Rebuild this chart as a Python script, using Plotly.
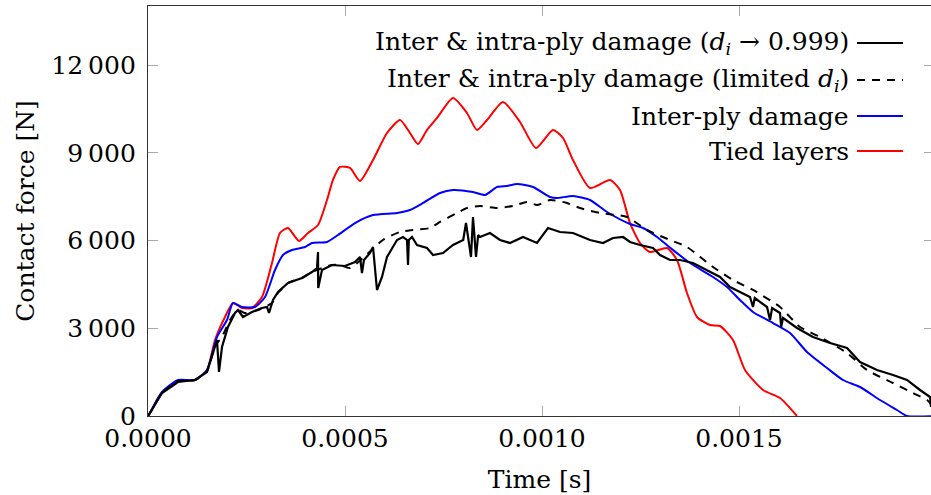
import plotly.graph_objects as go

# ---------------- data (time in s, force in N) ----------------
t_full = [0, 0.051e-4, 0.355e-4, 0.761e-4, 1.193e-4, 1.497e-4, 1.650e-4, 1.751e-4, 1.802e-4, 1.878e-4,
          2.030e-4, 2.208e-4, 2.284e-4, 2.411e-4, 2.640e-4, 2.893e-4, 3.020e-4, 3.071e-4, 3.173e-4, 3.299e-4,
          3.553e-4, 3.909e-4, 4.162e-4, 4.289e-4, 4.315e-4, 4.320e-4, 4.416e-4, 4.670e-4, 5.000e-4, 5.254e-4,
          5.381e-4, 5.431e-4, 5.480e-4, 5.635e-4, 5.711e-4, 5.812e-4, 5.939e-4, 6.066e-4, 6.320e-4, 6.472e-4,
          6.574e-4, 6.599e-4, 6.620e-4, 6.701e-4, 6.827e-4, 7.081e-4, 7.234e-4, 7.487e-4, 7.741e-4, 8.000e-4,
          8.071e-4, 8.150e-4, 8.198e-4, 8.249e-4, 8.325e-4, 8.380e-4, 8.426e-4, 8.680e-4, 8.934e-4, 9.188e-4,
          9.518e-4, 9.873e-4, 10.025e-4, 10.152e-4, 10.457e-4, 10.787e-4, 11.218e-4, 11.548e-4, 11.802e-4, 12.056e-4,
          12.234e-4, 12.487e-4, 12.817e-4, 12.995e-4, 13.249e-4, 13.503e-4, 13.832e-4, 14.188e-4, 14.518e-4, 14.772e-4,
          15.025e-4, 15.279e-4, 15.355e-4, 15.400e-4, 15.711e-4, 15.787e-4, 15.840e-4, 16.041e-4, 16.070e-4, 16.117e-4,
          16.472e-4, 16.878e-4, 17.310e-4, 17.741e-4, 18.071e-4, 18.503e-4, 18.909e-4, 19.264e-4, 19.594e-4, 19.848e-4,
          19.873e-4]
f_full = [0, 103, 787, 1163, 1232, 1506, 2156, 2601, 1506, 2361,
          3046, 3525, 3627, 3388, 3559, 3696, 3730, 3525, 3970, 4243,
          4551, 4722, 4928, 5065, 5612, 4380, 4996, 5167, 5133, 5270,
          5441, 4893, 5338, 5578, 5783, 4312, 4757, 5441, 6023, 6125,
          6023, 5167, 6023, 6125, 5852, 5749, 5509, 5578, 5852, 6023,
          6604, 5852, 5441, 6810, 5441, 6194, 6125, 6262, 6023, 5920,
          6125, 5920, 6194, 6433, 6296, 6262, 6023, 5920, 6091, 6125,
          5954, 5852, 5749, 5509, 5338, 5338, 5236, 4996, 4757, 4414,
          4243, 4072, 3730, 4038, 3730, 3285, 3696, 3525, 3046, 3354,
          3011, 2703, 2498, 2327, 1848, 1574, 1403, 1232, 890, 650,
          308]

t_lim = [0, 0.051e-4, 0.355e-4, 0.761e-4, 1.193e-4, 1.497e-4, 1.701e-4, 1.878e-4, 2.081e-4, 2.284e-4,
         2.462e-4, 2.792e-4, 3.147e-4, 3.299e-4, 3.553e-4, 3.909e-4, 4.162e-4, 4.670e-4, 4.873e-4, 5.127e-4,
         5.964e-4, 6.396e-4, 6.726e-4, 7.157e-4, 7.411e-4, 7.843e-4, 8.096e-4, 8.426e-4, 8.858e-4, 9.264e-4,
         9.619e-4, 9.873e-4, 10.203e-4, 10.635e-4, 10.964e-4, 11.472e-4, 12.157e-4, 12.665e-4, 13.249e-4, 13.680e-4,
         14.340e-4, 14.848e-4, 15.355e-4, 16.041e-4, 16.548e-4, 17.056e-4, 17.741e-4, 18.249e-4, 18.909e-4, 19.416e-4,
         19.772e-4, 19.873e-4]
f_lim = [0, 103, 787, 1198, 1232, 1540, 2400, 2703, 3285, 3627,
         3525, 3627, 3867, 4209, 4551, 4722, 4928, 5167, 5167, 5065,
         6023, 6296, 6365, 6433, 6639, 6947, 7118, 7186, 7118, 7186,
         7323, 7220, 7392, 7289, 7118, 6947, 6810, 6365, 6023, 5783,
         5099, 4654, 4312, 3730, 3046, 2703, 2156, 1574, 1129, 787,
         548, 411]

t_inter = [0, 0.051e-4, 0.355e-4, 0.761e-4, 1.193e-4, 1.497e-4, 1.751e-4, 2.005e-4, 2.157e-4, 2.386e-4,
           2.716e-4, 2.970e-4, 3.223e-4, 3.426e-4, 3.655e-4, 3.985e-4, 4.162e-4, 4.543e-4, 4.822e-4, 5.254e-4,
           5.711e-4, 6.320e-4, 6.650e-4, 6.980e-4, 7.411e-4, 7.741e-4, 8.249e-4, 8.553e-4, 8.858e-4, 9.112e-4,
           9.365e-4, 9.772e-4, 10.203e-4, 10.381e-4, 10.787e-4, 11.218e-4, 11.650e-4, 12.234e-4, 12.563e-4, 12.919e-4,
           13.325e-4, 13.756e-4, 14.340e-4, 14.695e-4, 15.025e-4, 15.355e-4, 15.863e-4, 16.294e-4, 16.726e-4, 17.234e-4,
           17.640e-4, 18.071e-4, 18.579e-4, 19.010e-4, 19.264e-4, 20.0e-4]
f_inter = [0, 120, 820, 1232, 1232, 1574, 2703, 3285, 3867, 3730,
           3730, 4072, 4996, 5509, 5680, 5783, 5920, 5954, 6194, 6604,
           6878, 6947, 7049, 7289, 7631, 7734, 7665, 7563, 7836, 7871,
           7939, 7836, 7494, 7460, 7528, 7392, 6981, 6570, 6433, 6125,
           5680, 5236, 4757, 4414, 3970, 3559, 3182, 2840, 2190, 1643,
           1232, 992, 548, 205, 0, 0]

t_tied = [0, 0.051e-4, 0.355e-4, 0.761e-4, 1.193e-4, 1.497e-4, 1.701e-4, 1.954e-4, 2.157e-4, 2.386e-4,
          2.640e-4, 2.893e-4, 3.147e-4, 3.350e-4, 3.553e-4, 3.832e-4, 4.061e-4, 4.315e-4, 4.543e-4, 4.695e-4,
          4.873e-4, 5.127e-4, 5.381e-4, 5.711e-4, 6.066e-4, 6.396e-4, 6.650e-4, 6.853e-4, 7.081e-4, 7.335e-4,
          7.741e-4, 8.096e-4, 8.350e-4, 8.604e-4, 9.010e-4, 9.442e-4, 9.848e-4, 10.279e-4, 10.533e-4, 10.787e-4,
          11.218e-4, 11.726e-4, 11.980e-4, 12.234e-4, 12.487e-4, 12.741e-4, 13.173e-4, 13.426e-4, 13.680e-4, 13.934e-4,
          14.264e-4, 14.518e-4, 14.848e-4, 15.152e-4, 15.609e-4, 16.041e-4, 16.472e-4]
f_tied = [0, 103, 787, 1198, 1232, 1574, 2601, 3388, 3867, 3696,
          3696, 4072, 5236, 6262, 6433, 5989, 6262, 6536, 7392, 8076,
          8521, 8487, 8042, 8760, 9684, 10129, 9684, 9308, 9787, 10198,
          10882, 10369, 9787, 10129, 10745, 10061, 9171, 9787, 9513, 8760,
          7802, 8076, 7734, 6604, 5920, 5612, 5749, 5338, 4209, 3388,
          3114, 3080, 2601, 1574, 890, 616, 0]

series_names = ["Inter & intra-ply damage (d_i → 0.999)",
                "Inter & intra-ply damage (limited d_i)",
                "Inter-ply damage",
                "Tied layers"]
legend_labels = ["Inter & intra-ply damage (<i>d<sub>i</sub></i> → 0.999)",
                 "Inter & intra-ply damage (limited <i>d<sub>i</sub></i>)",
                 "Inter-ply damage",
                 "Tied layers"]

x_ticks = [0, 0.0005, 0.0010, 0.0015]
x_ticktext = ["0.0000", "0.0005", "0.0010", "0.0015"]
y_ticks = [0, 3000, 6000, 9000, 12000]
y_ticktext = ["0", "3\u2009000", "6\u2009000", "9\u2009000", "12\u2009000"]

# ---------------- figure ----------------
FONT = "DejaVu Serif"
FS = 25
colors = ["black", "black", "#0000ff", "#ff0000"]
dashes = ["solid", "8px,7px", "solid", "solid"]
shapes_line = ["linear", "spline", "spline", "spline"]
data = [(t_full, f_full), (t_lim, f_lim), (t_inter, f_inter), (t_tied, f_tied)]

fig = go.Figure()
for i in [3, 2, 1, 0]:
    tx, fy = data[i]
    fig.add_trace(go.Scatter(x=tx, y=fy, mode="lines", name=series_names[i],
                             line=dict(color=colors[i], width=2.2 if i == 0 else 2, dash=dashes[i],
                                       shape=shapes_line[i], smoothing=0.6),
                             showlegend=False, cliponaxis=True))
fig.add_trace(go.Scatter(x=[], y=[], yaxis="y2", showlegend=False, hoverinfo="skip"))

XMAX = 0.0019873
YMAX = 14030

leg_y = [0.9098, 0.8195, 0.7317, 0.6463]
shapes = []
annots = []
for i in range(4):
    shapes.append(dict(type="line", xref="paper", yref="paper",
                       x0=0.9055, x1=0.9642, y0=leg_y[i], y1=leg_y[i],
                       line=dict(color=colors[i], width=2.2, dash=dashes[i])))
    annots.append(dict(text=legend_labels[i], xref="paper", yref="paper",
                       x=0.898, y=leg_y[i], xanchor="right", yanchor="middle",
                       showarrow=False, font=dict(family=FONT, size=FS, color="black")))

fig.update_layout(
    width=931, height=495,
    margin=dict(l=148, r=0, t=6, b=79),
    paper_bgcolor="white", plot_bgcolor="white",
    font=dict(family=FONT, size=FS, color="black"),
    shapes=shapes, annotations=annots,
    xaxis=dict(range=[0, XMAX], tickvals=x_ticks, ticktext=x_ticktext,
               showline=True, linecolor="#333333", linewidth=1.3, mirror="ticks",
               ticks="inside", ticklen=10, tickwidth=1.2, tickcolor="#aaaaaa",
               showgrid=False, zeroline=False,
               tickfont=dict(family=FONT, size=FS),
               title=dict(text="Time [s]", font=dict(family=FONT, size=FS), standoff=18)),
    yaxis=dict(range=[0, YMAX], tickvals=y_ticks, ticktext=y_ticktext,
               showline=True, linecolor="#333333", linewidth=1.3,
               ticks="inside", ticklen=10, tickwidth=1.2, tickcolor="#aaaaaa",
               showgrid=False, zeroline=False, ticklabelstandoff=6,
               tickfont=dict(family=FONT, size=FS),
               title=dict(text="Contact force [N]", font=dict(family=FONT, size=FS), standoff=9)),
    yaxis2=dict(range=[0, YMAX], tickvals=y_ticks, overlaying="y", side="right",
                showticklabels=False, showline=False, showgrid=False, zeroline=False,
                ticks="inside", ticklen=7, tickwidth=1.2, tickcolor="#aaaaaa"),
)

fig.write_html("out.html")
